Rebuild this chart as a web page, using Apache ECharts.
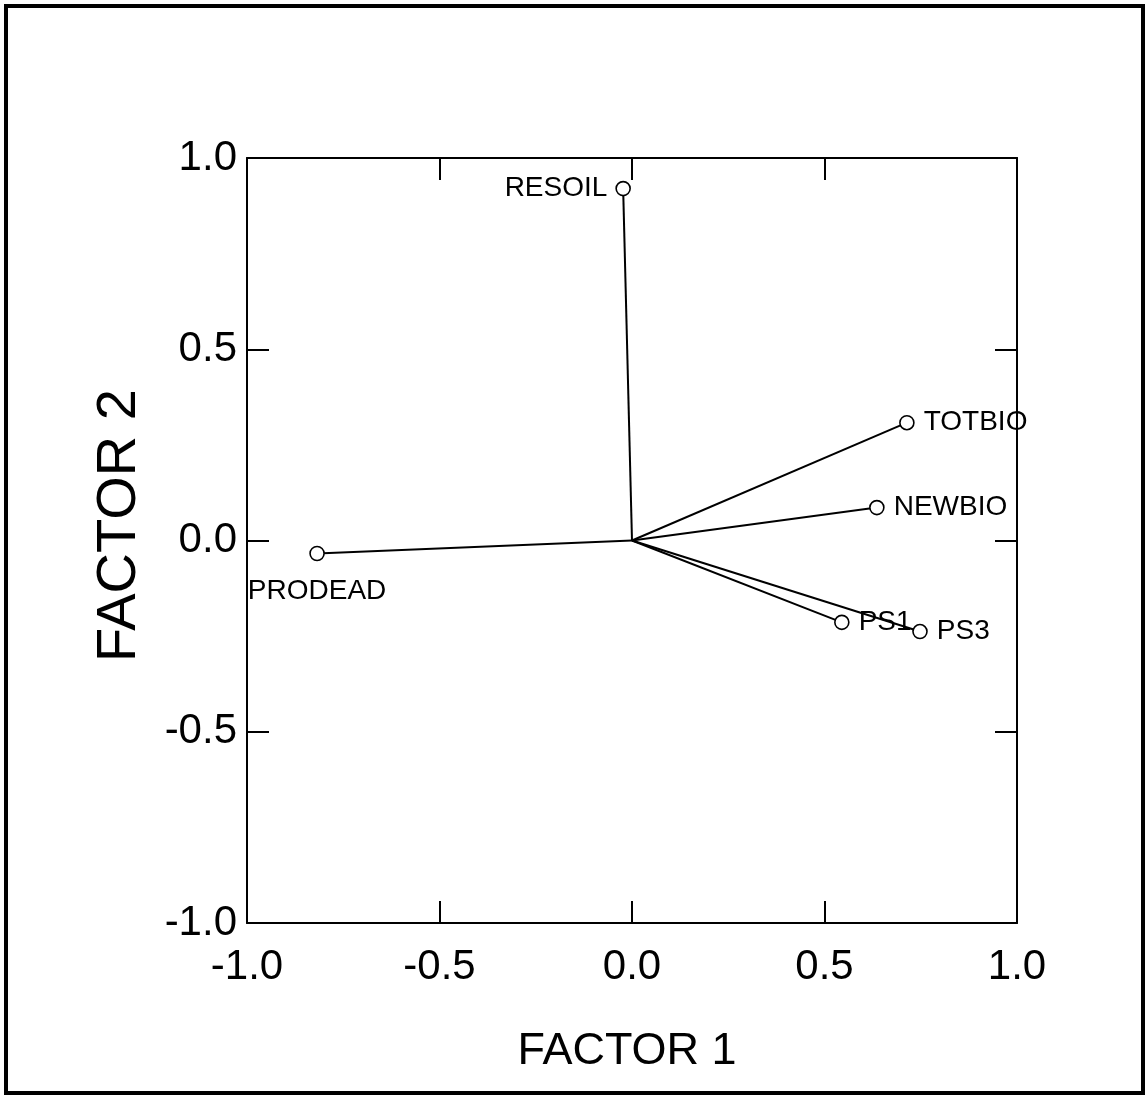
<!DOCTYPE html>
<html>
<head>
<meta charset="utf-8">
<script src="https://cdn.jsdelivr.net/npm/echarts@6/dist/echarts.min.js"></script>
<style>
  html, body { margin: 0; padding: 0; background: #fff; }
  #chart { width: 1146px; height: 1097px; }
</style>
</head>
<body>
<div id="chart"></div>
<script>
// Factor loadings of each variable on the first two factors
const variables = ['RESOIL', 'TOTBIO', 'NEWBIO', 'PS1', 'PS3', 'PRODEAD'];
const factor1 = [-0.023, 0.714, 0.636, 0.545, 0.748, -0.818];
const factor2 = [0.920, 0.308, 0.086, -0.214, -0.238, -0.034];
const labelSides = ['left', 'right', 'right', 'right', 'right', 'bottom'];
const axisTicks = [-1.0, -0.5, 0.0, 0.5, 1.0];

const FONT = '"Liberation Sans", Arial, Helvetica, sans-serif';
const chart = echarts.init(document.getElementById('chart'), null, { renderer: 'canvas' });

const fmt = v => v.toFixed(1);

// Vectors drawn from the origin to each loading
const vectorSeries = variables.map((name, i) => ({
  type: 'line',
  name: name,
  data: [[0, 0], [factor1[i], factor2[i]]],
  symbol: 'none',
  silent: true,
  lineStyle: { color: '#000', width: 2 },
  z: 2
}));

const labelStyle = side => {
  const base = { show: true, position: side, color: '#000', opacity: 1,
                 fontFamily: FONT, fontSize: 28, formatter: p => p.name };
  if (side === 'left') base.distance = 8;
  if (side === 'right') base.distance = 9;
  if (side === 'bottom') base.distance = 16;
  return base;
};

const pointSeries = {
  type: 'scatter',
  symbol: 'circle',
  symbolSize: 14,
  itemStyle: { color: '#fff', borderColor: '#000', borderWidth: 1.6, opacity: 1 },
  data: variables.map((name, i) => ({
    name: name,
    value: [factor1[i], factor2[i]],
    label: labelStyle(labelSides[i])
  })),
  z: 3
};

const axisCommon = {
  type: 'value', min: -1, max: 1, interval: 0.5,
  splitLine: { show: false },
  axisLine: { show: true, onZero: false, lineStyle: { color: '#000', width: 2 } },
  axisTick: { show: true, inside: true, length: 22, lineStyle: { color: '#000', width: 2 } }
};

chart.setOption({
  animation: false,
  backgroundColor: '#fff',
  grid: { left: 247, top: 158, width: 770, height: 765, containLabel: false },
  xAxis: [
    Object.assign({}, axisCommon, {
      position: 'bottom',
      name: 'FACTOR 1', nameLocation: 'middle', nameGap: 106,
      nameTextStyle: { color: '#000', fontFamily: FONT, fontSize: 45, padding: [0, 10, 0, 0] },
      axisLabel: { color: '#000', fontFamily: FONT, fontSize: 42, margin: 23,
                   formatter: v => axisTicks.includes(v) ? fmt(v) : '' }
    }),
    Object.assign({}, axisCommon, { position: 'top', axisLabel: { show: false } })
  ],
  yAxis: [
    Object.assign({}, axisCommon, {
      position: 'left',
      name: 'FACTOR 2', nameLocation: 'middle', nameGap: 99,
      nameTextStyle: { color: '#000', fontFamily: FONT, fontSize: 56, padding: [0, 0, 0, 30] },
      axisLabel: { color: '#000', fontFamily: FONT, fontSize: 42, margin: 10,
                   formatter: v => axisTicks.includes(v) ? fmt(v) : '' }
    }),
    Object.assign({}, axisCommon, { position: 'right', axisLabel: { show: false } })
  ],
  graphic: [{
    type: 'rect',
    shape: { x: 6, y: 6, width: 1137, height: 1087 },
    style: { fill: 'none', stroke: '#000', lineWidth: 4 },
    silent: true
  }],
  series: vectorSeries.concat([pointSeries])
});
</script>
</body>
</html>
